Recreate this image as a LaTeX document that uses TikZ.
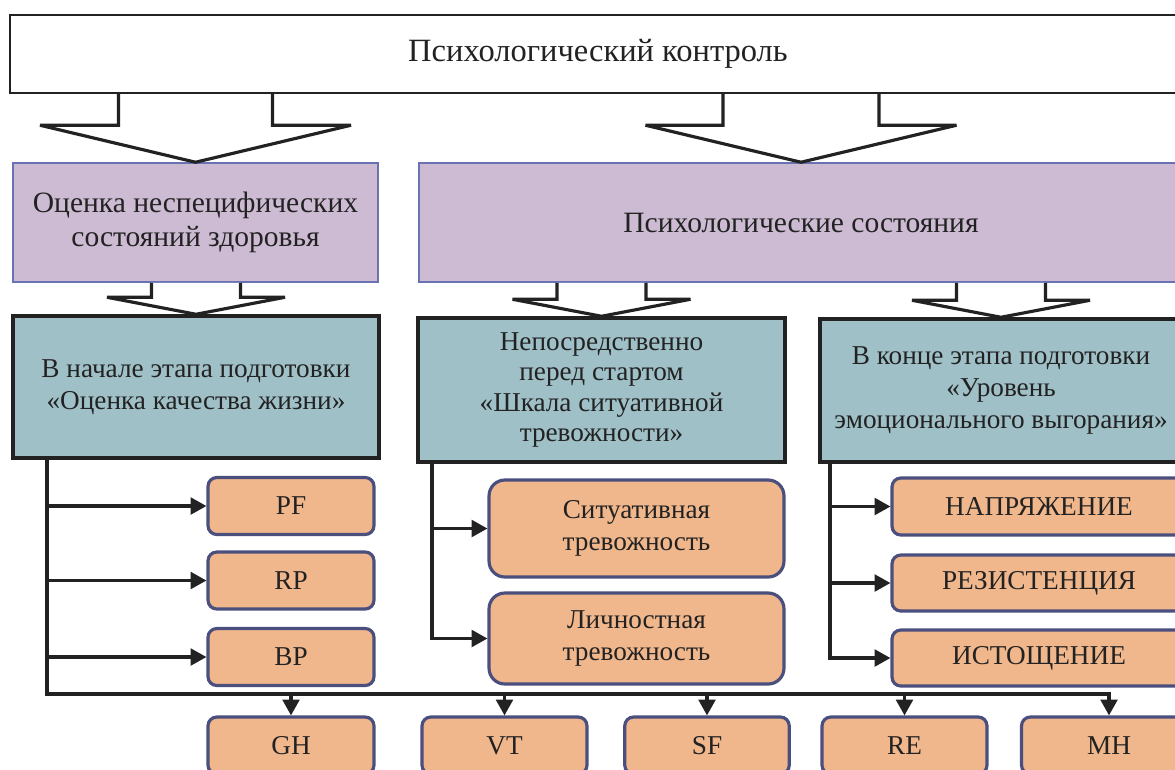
\documentclass[tikz,border=0pt]{standalone}
\usepackage{fontspec}
\setmainfont{Liberation Serif}
\usetikzlibrary{arrows.meta,calc}
\definecolor{catfill}{RGB}{205,187,211}
\definecolor{catline}{RGB}{105,115,180}
\definecolor{stagefill}{RGB}{159,192,199}
\definecolor{itemfill}{RGB}{240,182,140}
\definecolor{itemline}{RGB}{74,79,126}
\definecolor{ink}{RGB}{34,34,34}
\tikzset{
  txt/.style = {font=\fontsize{15.5}{18.2}\selectfont, text=ink, align=center, inner sep=0pt},
  topbox/.style = {txt, font=\fontsize{18.5}{21}\selectfont, draw=ink, fill=white, line width=1.4pt},
  catbox/.style = {txt, font=\fontsize{16.8}{19.3}\selectfont, draw=catline, fill=catfill, line width=0.9pt},
  stagebox/.style = {txt, draw=ink, fill=stagefill, line width=2pt},
  itembox/.style = {txt, draw=itemline, fill=itemfill, line width=1.8pt, rounded corners=5pt},
  bigitem/.style = {itembox, rounded corners=9pt},
  link/.style = {draw=ink, line width=1.8pt, -{Triangle[length=9pt,width=9.5pt]}},
  fatarrow/.style = {draw=ink, fill=white, line width=1.8pt, line join=miter, miter limit=2}
}
% source, target, half stem, half head, head length
\newcommand{\blockarrow}[5]{%
  \draw[fatarrow] let \p1 = (#1.south), \p2 = (#2.north) in
    (\x2-#3, \y1) -- (\x2-#3, \y2+#5) -- (\x2-#4, \y2+#5) -- (\x2, \y2)
    -- (\x2+#4, \y2+#5) -- (\x2+#3, \y2+#5) -- (\x2+#3, \y1);}

\begin{document}
\begin{tikzpicture}[x=0.02cm, y=-0.02cm]
    \useasboundingbox (0,0) rectangle (1175,769);
    \clip (0,0) rectangle (1175,769);

    \node [topbox, minimum width=23.52cm, minimum height=1.56cm] (top) at (598,54) {Психологический контроль};

    \node [catbox, minimum width=7.3cm, minimum height=2.38cm] (catA) at (195.5,222.5) {Оценка неспецифических\\состояний здоровья};
    \node [catbox, minimum width=15.28cm, minimum height=2.38cm] (catB) at (801,222.5) {Психологические состояния};

    \node [stagebox, minimum width=7.32cm, minimum height=2.84cm] (stageA) at (196,387) {В начале этапа подготовки\\«Оценка качества жизни»};
    \node [stagebox, font=\fontsize{15.5}{17.2}\selectfont, minimum width=7.34cm, minimum height=2.88cm] (stageB) at (601.5,390) {Непосредственно\\перед стартом\\«Шкала ситуативной\\тревожности»};
    \node [stagebox, minimum width=7.24cm, minimum height=2.86cm] (stageC) at (1001,390.5) {В конце этапа подготовки\\«Уровень\\эмоционального выгорания»};

    \blockarrow{top}{catA}{1.54cm}{3.11cm}{0.74cm}
    \blockarrow{top}{catB}{1.56cm}{3.11cm}{0.74cm}
    \blockarrow{catA}{stageA}{0.89cm}{1.78cm}{0.34cm}
    \blockarrow{catB}{stageB}{0.89cm}{1.78cm}{0.34cm}
    \blockarrow{catB}{stageC}{0.89cm}{1.78cm}{0.34cm}

    % left column
    \node [itembox, minimum width=3.32cm, minimum height=1.14cm] (PF) at (291,506) {PF};
    \node [itembox, minimum width=3.32cm, minimum height=1.14cm] (RP) at (291,580.5) {RP};
    \node [itembox, minimum width=3.32cm, minimum height=1.14cm] (BP) at (291,657) {BP};

    % middle column
    \node [bigitem, minimum width=5.9cm, minimum height=1.94cm] (ST) at (636.5,528.5) {Ситуативная\\тревожность};
    \node [bigitem, minimum width=5.9cm, minimum height=1.82cm] (LT) at (636.5,638.5) {Личностная\\тревожность};

    % right column
    \node [itembox, minimum width=5.88cm, minimum height=1.14cm] (NA) at (1039,506.5) {НАПРЯЖЕНИЕ};
    \node [itembox, minimum width=5.88cm, minimum height=1.12cm] (RZ) at (1039,583) {РЕЗИСТЕНЦИЯ};
    \node [itembox, minimum width=5.88cm, minimum height=1.12cm] (EX) at (1039,658) {ИСТОЩЕНИЕ};

    % bottom row
    \node [itembox, minimum width=3.32cm, minimum height=1.14cm] (GH) at (291,745.5) {GH};
    \node [itembox, minimum width=3.3cm, minimum height=1.14cm] (VT) at (504.5,745.5) {VT};
    \node [itembox, minimum width=3.29cm, minimum height=1.14cm] (SF) at (707,745.5) {SF};
    \node [itembox, minimum width=3.3cm, minimum height=1.14cm] (RE) at (904.5,745.5) {RE};
    \node [itembox, minimum width=3.5cm, minimum height=1.14cm] (MH) at (1109,745.5) {MH};

    \coordinate (tA) at (47,0);
    \coordinate (tB) at (432,0);
    \coordinate (tC) at (830,0);
    \coordinate (bus) at (0,694);

    \draw [link] (stageA.south -| tA) -- (tA |- bus) -| (MH.north);
    \foreach \b in {PF,RP,BP}
        \draw [link] (\b.west -| tA) -- (\b.west);
    \foreach \b in {GH,VT,SF,RE}
        \draw [link] (\b.north |- bus) -- (\b.north);

    \draw [link] (stageB.south -| tB) |- (LT.west);
    \draw [link] (ST.west -| tB) -- (ST.west);

    \draw [link] (stageC.south -| tC) |- (EX.west);
    \foreach \b in {NA,RZ}
        \draw [link] (\b.west -| tC) -- (\b.west);
\end{tikzpicture}
\end{document}
